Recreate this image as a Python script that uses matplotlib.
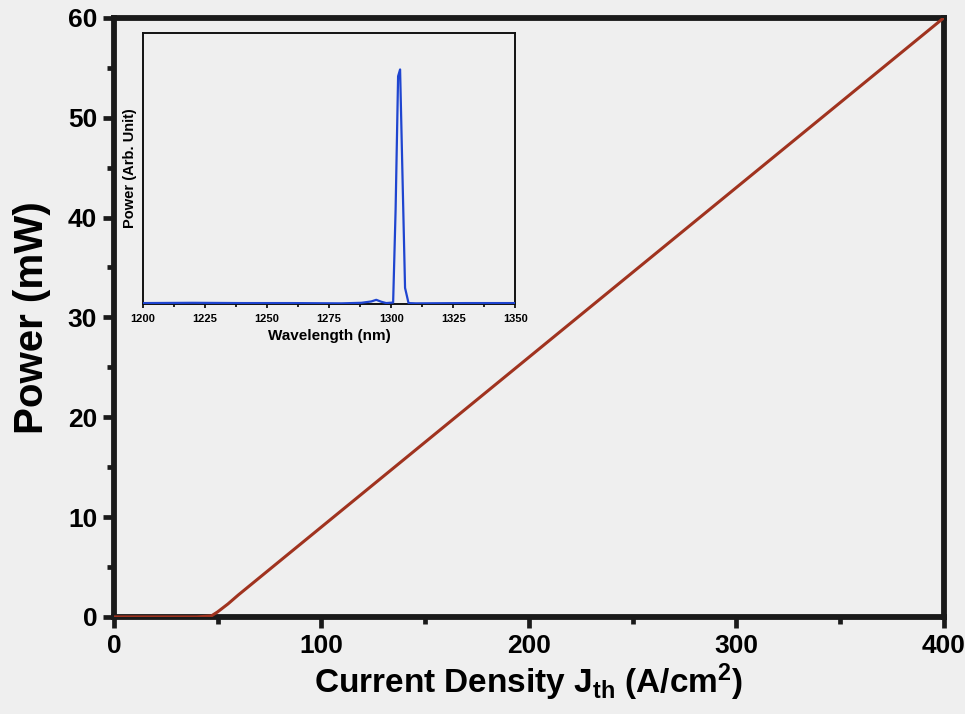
import matplotlib
matplotlib.use("Agg")
import matplotlib.pyplot as plt
from matplotlib.ticker import MultipleLocator

# L-I characteristic: current density (A/cm^2) vs output power (mW)
current_density = [0, 10, 20, 30, 40, 47, 50, 55, 60, 100, 150, 200, 250, 300, 350, 400]
power_mw = [0.0, 0.0, 0.0, 0.0, 0.0, 0.1, 0.5, 1.3, 2.2, 9.0, 17.5, 26.0, 34.5, 43.0, 51.5, 60.0]

# Lasing spectrum (inset): wavelength (nm) vs normalised power
wavelength_nm = [1200, 1220, 1240, 1260, 1280, 1288, 1292, 1294, 1296, 1298, 1300.8,
                 1301.8, 1302.8, 1303.6, 1304.5, 1305.6, 1307, 1310, 1330, 1350]
spectrum = [0.004, 0.005, 0.004, 0.004, 0.003, 0.005, 0.010, 0.016, 0.009, 0.004, 0.006,
            0.35, 0.84, 0.865, 0.50, 0.06, 0.004, 0.003, 0.004, 0.004]

x_ticks = [0, 100, 200, 300, 400]
y_ticks = [0, 10, 20, 30, 40, 50, 60]
inset_ticks = [1200, 1225, 1250, 1275, 1300, 1325, 1350]

plt.rcParams["font.family"] = ["Liberation Sans", "DejaVu Sans"]
plt.rcParams["mathtext.default"] = "regular"

bg = "#efefef"
ink = "#1a1a1a"
fig = plt.figure(figsize=(9.65, 7.14), dpi=100, facecolor=bg)

ax = fig.add_axes([0.118, 0.136, 0.860, 0.839], facecolor=bg)
ax.plot(current_density, power_mw, color="#a0331f", lw=2.2, solid_capstyle="round", zorder=3)
ax.set_xlim(0, 400)
ax.set_ylim(0, 60)
ax.set_xticks(x_ticks)
ax.set_yticks(y_ticks)
ax.xaxis.set_minor_locator(MultipleLocator(50))
ax.yaxis.set_minor_locator(MultipleLocator(5))
for s in ax.spines.values():
    s.set_linewidth(4.2)
    s.set_color(ink)
ax.tick_params(which="major", direction="out", length=8, width=3.4, color=ink,
               labelsize=19, pad=4)
ax.tick_params(which="minor", direction="out", length=5, width=3.4, color=ink)
for lab in ax.get_xticklabels() + ax.get_yticklabels():
    lab.set_fontweight("bold")
ax.set_xlabel(r"Current Density J$_{th}$ (A/cm$^{2}$)", fontsize=24, fontweight="bold", labelpad=3)
ax.set_ylabel("Power (mW)", fontsize=29, fontweight="bold", labelpad=12)

# Inset: emission spectrum above threshold
ins = fig.add_axes([0.148, 0.574, 0.386, 0.380], facecolor=bg)
ins.plot(wavelength_nm, spectrum, color="#1f45d0", lw=1.6, zorder=3)
ins.set_xlim(1200, 1350)
ins.set_ylim(0, 1)
ins.set_xticks(inset_ticks)
ins.xaxis.set_minor_locator(MultipleLocator(12.5))
ins.set_yticks([])
for s in ins.spines.values():
    s.set_linewidth(1.4)
    s.set_color("#111111")
ins.tick_params(axis="x", which="major", direction="out", length=3, width=1.2, labelsize=8, pad=4)
ins.tick_params(axis="x", which="minor", direction="out", length=2, width=1.2)
for lab in ins.get_xticklabels():
    lab.set_fontweight("bold")
ins.set_xlabel("Wavelength (nm)", fontsize=11, fontweight="bold", labelpad=4)
ins.set_ylabel("Power (Arb. Unit)", fontsize=10.5, fontweight="bold", labelpad=4)

fig.savefig("out.png", dpi=100, facecolor=bg)
